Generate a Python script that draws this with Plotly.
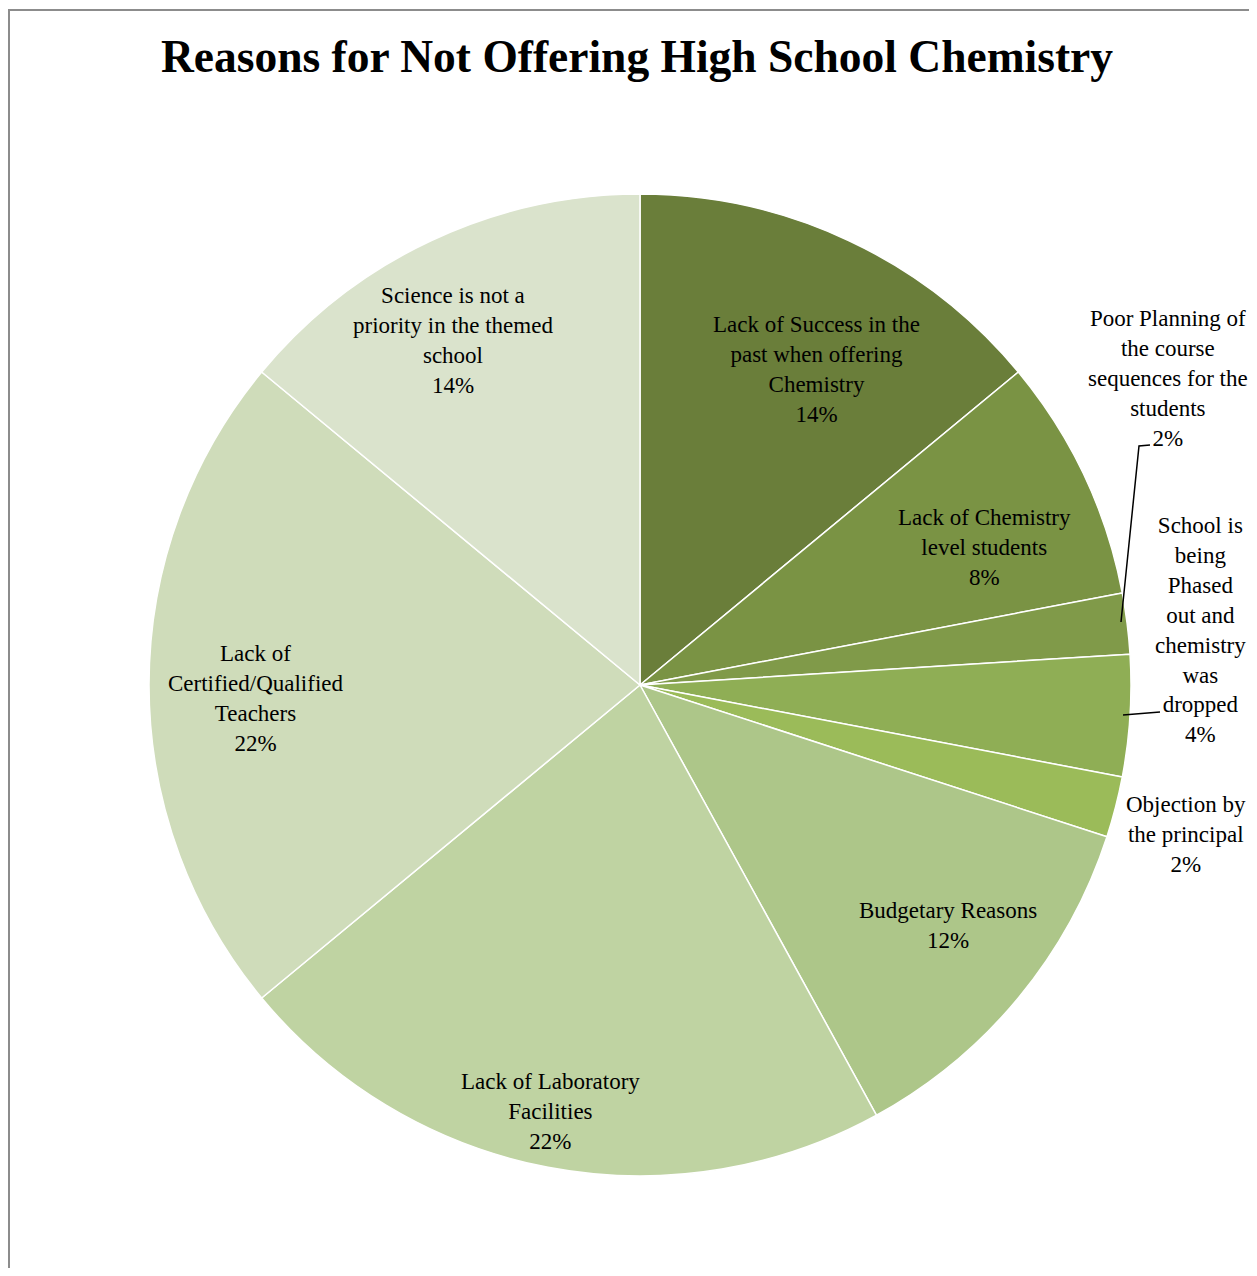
import plotly.graph_objects as go

categories = [
    "Lack of Success in the<br>past when offering<br>Chemistry",
    "Lack of Chemistry<br>level students",
    "Poor Planning of<br>the course<br>sequences for the<br>students",
    "School is<br>being<br>Phased<br>out and<br>chemistry<br>was<br>dropped",
    "Objection by<br>the principal",
    "Budgetary Reasons",
    "Lack of Laboratory<br>Facilities",
    "Lack of<br>Certified/Qualified<br>Teachers",
    "Science is not a<br>priority in the themed<br>school",
]
counts = [7, 4, 1, 2, 1, 6, 11, 11, 7]
colors = ["#6A7E3A", "#7A9344", "#809A49", "#8FAE55", "#9BBB59",
          "#ADC689", "#BFD3A2", "#CFDCBA", "#DAE3CC"]

# page offset (default body margin of the html page)
OFF = 8
W, H = 1257 - OFF, 1276 - 2 * OFF
cx, cy, R = 640 - OFF, 685 - OFF, 491

# label centres in page pixels (layout only)
label_pos = [(816, 369), (985, 547), (1168, 378), (1200, 630), (1186, 834),
             (948, 925), (550, 1111), (255, 698), (453, 341)]

total = sum(counts)

fig = go.Figure(go.Pie(
    values=counts,
    labels=[c.replace("<br>", " ") for c in categories],
    sort=False,
    direction="clockwise",
    rotation=0,
    textinfo="none",
    hoverinfo="label+percent",
    marker=dict(colors=colors, line=dict(color="white", width=1.5)),
    domain=dict(x=[(cx - R) / W, (cx + R) / W], y=[(H - cy - R) / H, (H - cy + R) / H]),
    showlegend=False,
))


def px2paper(x, y):
    return (x - OFF) / W, 1 - (y - OFF) / H


font = dict(family="Liberation Serif, Times New Roman, serif", size=23, color="black")
for cat, v, (px, py) in zip(categories, counts, label_pos):
    pct = round(100 * v / total)
    ax, ay = px2paper(px, py)
    fig.add_annotation(
        x=ax, y=ay, xref="paper", yref="paper",
        text=f"{cat}<br>{pct}%", showarrow=False, font=font,
        align="center", xanchor="center", yanchor="middle",
    )


def pth(points):
    s = ""
    for i, (x, y) in enumerate(points):
        a, b = px2paper(x, y)
        s += ("M" if i == 0 else "L") + f" {a:.5f} {b:.5f} "
    return s


# leader lines
fig.add_shape(type="path", xref="paper", yref="paper",
              path=pth([(1150, 445), (1139, 446), (1121, 622)]),
              line=dict(color="black", width=1.5))
fig.add_shape(type="path", xref="paper", yref="paper",
              path=pth([(1123, 715), (1160, 712)]),
              line=dict(color="black", width=1.5))
# chart border (left and top edges visible)
fig.add_shape(type="path", xref="paper", yref="paper",
              path=pth([(9, 1290), (9, 10), (1270, 10)]),
              line=dict(color="#8C8C8C", width=2))

tx, ty = px2paper(637, 56)
fig.update_layout(
    width=W, height=H,
    margin=dict(l=0, r=0, t=0, b=0),
    paper_bgcolor="white", plot_bgcolor="white",
    title=dict(text="<b>Reasons for Not Offering High School Chemistry</b>",
               x=tx, xanchor="center", y=ty, yanchor="middle",
               font=dict(family="Liberation Serif, Times New Roman, serif", size=45.5, color="black")),
)

fig.write_html("out.html")
